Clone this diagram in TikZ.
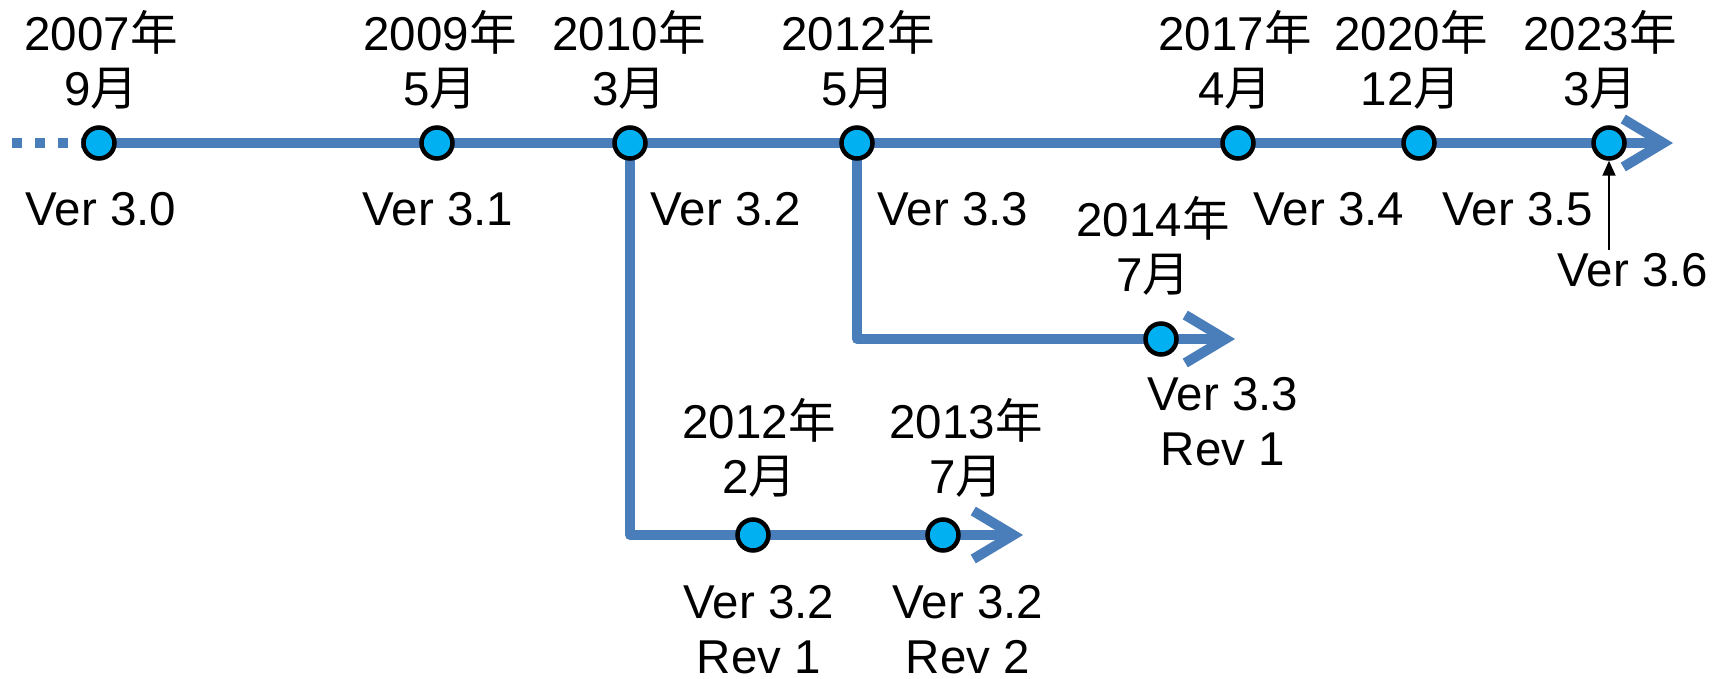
\documentclass[tikz,border=0pt]{standalone}
\usepackage{fontspec}
\setmainfont{Liberation Sans}
\newfontfamily\cjk{Noto Sans CJK JP}
\usetikzlibrary{arrows.meta,backgrounds}
\newcommand\nen{{\cjk 年}}
\newcommand\tsuki{{\cjk 月}}
\definecolor{lineblue}{HTML}{4A7EBB}
\definecolor{evblue}{HTML}{00B0F0}
\tikzset{
  tl/.style={line width=10pt, draw=lineblue, line join=round},
  ev/.style={circle, fill=evblue, draw=black, line width=4.5pt, minimum size=31pt, inner sep=0pt},
  lbl/.style={font=\fontsize{47.5}{55}\selectfont, align=center, inner sep=0pt},
  tiparrow/.style={-{Straight Barb[length=40pt,width=48pt]}}
}
\begin{document}
\begin{tikzpicture}[x=1pt,y=-1pt]
\useasboundingbox (0,0) rectangle (1725,679);
% events
\node[ev] (e1) at (99,143) {};
\node[ev] (e2) at (437,143) {};
\node[ev] (e3) at (630,143) {};
\node[ev] (e4) at (857,143) {};
\node[ev] (e5) at (1238,143) {};
\node[ev] (e6) at (1419,143) {};
\node[ev] (e7) at (1609,143) {};
\node[ev] (b1) at (753,535) {};
\node[ev] (b2) at (943,535) {};
\node[ev] (c1) at (1161,339) {};
\coordinate (start) at (12,143);
\coordinate (mainend) at (1673,143);
\coordinate (b1end) at (1023,535);
\coordinate (c1end) at (1235,339);
\coordinate (v36) at (1609,250);
\begin{scope}[on background layer]
  \draw[tl, line cap=butt, dash pattern=on 10pt off 13pt] (start) -- (e1.center);
  \draw[tl, tiparrow] (e1.center) -- (mainend);
  \draw[tl, tiparrow] (e3.center) |- (b1end);
  \draw[tl, tiparrow] (e4.center) |- (c1end);
\end{scope}
\draw[line width=2pt, -{Triangle[length=15pt,width=13pt]}] (v36) -- (e7.south);
% labels
\node[lbl] (t1) at (101,60) {2007\nen\\9\tsuki};
\node[lbl] (t2) at (440,60) {2009\nen\\5\tsuki};
\node[lbl] (t3) at (629,60) {2010\nen\\3\tsuki};
\node[lbl] (t4) at (858,60) {2012\nen\\5\tsuki};
\node[lbl] (t5) at (1235,60) {2017\nen\\4\tsuki};
\node[lbl] (t6) at (1411,60) {2020\nen\\12\tsuki};
\node[lbl] (t7) at (1600,60) {2023\nen\\3\tsuki};
\node[lbl] (t8) at (1153,246) {2014\nen\\7\tsuki};
\node[lbl] (t9) at (759,448) {2012\nen\\2\tsuki};
\node[lbl] (t10) at (966,448) {2013\nen\\7\tsuki};
\node[lbl] (v1) at (101,209) {Ver 3.0};
\node[lbl] (v2) at (438,209) {Ver 3.1};
\node[lbl] (v3) at (726,209) {Ver 3.2};
\node[lbl] (v4) at (953,209) {Ver 3.3};
\node[lbl] (v5) at (1329,209) {Ver 3.4};
\node[lbl] (v6) at (1518,209) {Ver 3.5};
\node[lbl] (v7) at (1633,270) {Ver 3.6};
\node[lbl] (v8) at (1223,422) {Ver 3.3\\Rev 1};
\node[lbl] (v9) at (759,630) {Ver 3.2\\Rev 1};
\node[lbl] (v10) at (968,630) {Ver 3.2\\Rev 2};
\end{tikzpicture}
\end{document}
